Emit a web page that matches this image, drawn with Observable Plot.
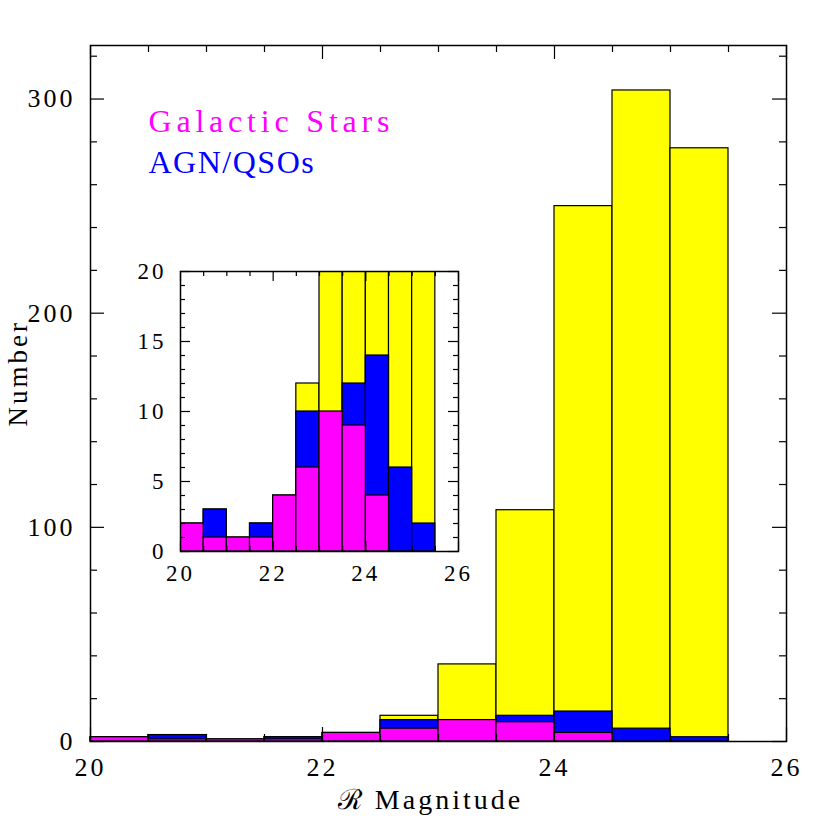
<!DOCTYPE html>
<html>
<head>
<meta charset="utf-8">
<script src="https://cdn.jsdelivr.net/npm/d3@7"></script>
<script src="https://cdn.jsdelivr.net/npm/@observablehq/plot@0.6"></script>
<style>
  body { margin: 0; background: #fff; }
  #wrap { position: relative; width: 830px; height: 830px; }
  #inset { position: absolute; left: 130px; top: 251px; }
  svg text { letter-spacing: 3px; }
</style>
</head>
<body>
<div id="wrap"><div id="main"></div><div id="inset"></div></div>
<script>
// Bin lower edges (R magnitude), width 0.5
const binStart = [20, 20.5, 21, 21.5, 22, 22.5, 23, 23.5, 24, 24.5, 25];
const binWidth = 0.5;
// Counts per bin
const totalCounts = [2, 3, 1, 2, 4, 12, 36, 108, 250, 304, 277];
const starCounts  = [2, 1, 1, 1, 4, 6, 10, 9, 4, 0, 0];
const agnCounts   = [0, 2, 0, 1, 0, 4, 0, 3, 10, 6, 2];

const legendLabels = ["Galactic Stars", "AGN/QSOs"];
const mainYMajor = [0, 100, 200, 300];
const mainYMinor = d3.range(0, 321, 20);
const xMajor = [20, 22, 24, 26];
const xMinor = d3.range(20, 26.01, 0.5);
const insetYMajor = [0, 5, 10, 15, 20];
const insetYMinor = d3.range(0, 21, 1);

const bins = binStart.map((b, i) => ({
  x1: b, x2: b + binWidth,
  total: totalCounts[i],
  agnTop: starCounts[i] + agnCounts[i],
  stars: starCounts[i]
}));

const YELLOW = "#ffff00", BLUE = "#0000ff", MAGENTA = "#ff00ff";
const FONT = "Liberation Serif, DejaVu Serif, serif";

function barMarks(clip) {
  return [
    Plot.rectY(bins, {x1: "x1", x2: "x2", y: "total", fill: YELLOW, stroke: "black", strokeWidth: 1.2, clip}),
    Plot.rectY(bins.filter(d => d.agnTop > d.stars), {x1: "x1", x2: "x2", y: "agnTop", fill: BLUE, stroke: "black", strokeWidth: 1.2, clip}),
    Plot.rectY(bins.filter(d => d.stars > 0), {x1: "x1", x2: "x2", y: "stars", fill: MAGENTA, stroke: "black", strokeWidth: 1.2, clip})
  ];
}

function tickMarks(H, W, yMaj, yMin, majLen, minLen) {
  const o = {stroke: "black", strokeWidth: 1.2};
  const xMinOnly = xMinor.filter(v => !xMajor.includes(v));
  const yMinOnly = yMin.filter(v => !yMaj.includes(v));
  return [
    Plot.tickX(xMajor, {x: d => d, insetTop: H - majLen, ...o}),
    Plot.tickX(xMajor, {x: d => d, insetBottom: H - majLen, ...o}),
    Plot.tickX(xMinOnly, {x: d => d, insetTop: H - minLen, ...o}),
    Plot.tickX(xMinOnly, {x: d => d, insetBottom: H - minLen, ...o}),
    Plot.tickY(yMaj, {y: d => d, insetRight: W - majLen, ...o}),
    Plot.tickY(yMaj, {y: d => d, insetLeft: W - majLen, ...o}),
    Plot.tickY(yMinOnly, {y: d => d, insetRight: W - minLen, ...o}),
    Plot.tickY(yMinOnly, {y: d => d, insetLeft: W - minLen, ...o})
  ];
}

// Main chart
const mW = 830, mH = 830, mL = 90, mR = 44, mT = 45, mB = 89;
const fW = mW - mL - mR, fH = mH - mT - mB;
const main = Plot.plot({
  width: mW, height: mH,
  marginLeft: mL, marginRight: mR, marginTop: mT, marginBottom: mB,
  style: {fontFamily: FONT, fontSize: "24px", background: "white", color: "black"},
  x: {domain: [20, 26], axis: null},
  y: {domain: [0, 325], axis: null},
  marks: [
    ...barMarks(false),
    ...tickMarks(fH, fW, mainYMajor, mainYMinor, 14, 7),
    Plot.frame({stroke: "black", strokeWidth: 1.5}),
    Plot.axisX({ticks: xMajor, tickFormat: "d", tickSize: 0, tickPadding: 16, label: null, fontSize: 26}),
    Plot.axisY({ticks: mainYMajor, tickFormat: "d", tickSize: 0, tickPadding: 15, label: null, fontSize: 26}),
    Plot.text(["Number"], {text: d => d, frameAnchor: "left", dx: -72, dy: 33, rotate: -90, fontSize: 27}),
    Plot.text(["\u211B Magnitude"], {text: d => d, frameAnchor: "bottom", dx: -8, dy: 67, fontSize: 28}),
    Plot.text([legendLabels[0]], {text: d => d, frameAnchor: "top-left", textAnchor: "start", lineAnchor: "middle", dx: 58, dy: 76, fontSize: 32, fill: MAGENTA}),
    Plot.text([legendLabels[1]], {text: d => d, frameAnchor: "top-left", textAnchor: "start", lineAnchor: "middle", dx: 58, dy: 117, fontSize: 32, fill: BLUE})
  ]
});
main.querySelectorAll("text").forEach(t => {
  const s = t.textContent;
  if (s === legendLabels[0]) t.style.letterSpacing = "4.8px";
  if (s === legendLabels[1]) t.style.letterSpacing = "1.5px";
});
document.getElementById("main").append(main);

// Inset chart
const iW = 370, iH = 340, iL = 50, iR = 42, iT = 20, iB = 40;
const ifW = iW - iL - iR, ifH = iH - iT - iB;
const inset = Plot.plot({
  width: iW, height: iH,
  marginLeft: iL, marginRight: iR, marginTop: iT, marginBottom: iB,
  style: {fontFamily: FONT, fontSize: "22px", background: "transparent", color: "black"},
  x: {domain: [20, 26], axis: null},
  y: {domain: [0, 20], axis: null},
  marks: [
    ...barMarks(true),
    ...tickMarks(ifH, ifW, insetYMajor, insetYMinor, 10, 5),
    Plot.frame({stroke: "black", strokeWidth: 1.5}),
    Plot.axisX({ticks: xMajor, tickFormat: "d", tickSize: 0, tickPadding: 13, label: null, fontSize: 23}),
    Plot.axisY({ticks: insetYMajor, tickFormat: "d", tickSize: 0, tickPadding: 14, label: null, fontSize: 23})
  ]
});
document.getElementById("inset").append(inset);
</script>
</body>
</html>
